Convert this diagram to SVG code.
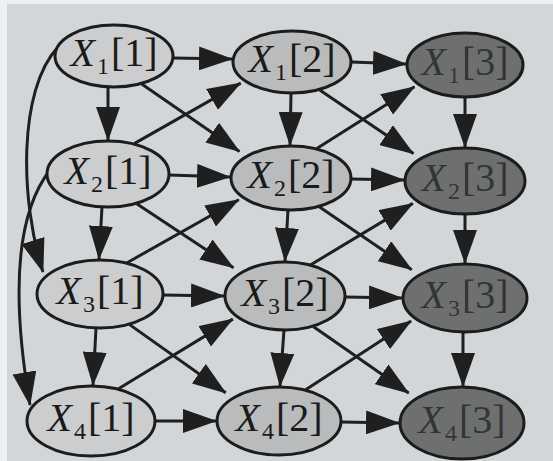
<svg xmlns="http://www.w3.org/2000/svg" width="553" height="461" viewBox="0 0 553 461">
<defs>
<marker id="ah" markerUnits="userSpaceOnUse" markerWidth="34" markerHeight="24" refX="33" refY="12" orient="auto" viewBox="0 0 34 24">
<path d="M0,0 L34,12 L0,24 z" fill="#1f1f1f"/>
</marker>
<style>
.n1{fill:#cbcdce;stroke:#1c1c1c;stroke-width:3}
.n2{fill:#b9bbbc;stroke:#1c1c1c;stroke-width:3}
.n3{fill:#6e7070;stroke:#1c1c1c;stroke-width:3}
.e{stroke:#1f1f1f;stroke-width:3;fill:none;marker-end:url(#ah)}
.t{font-family:"Liberation Serif","Times New Roman",serif;font-size:40px;fill:#1a1a1a}
.t3{fill:#333535}
.i{font-style:italic}
.s{font-size:24px}
</style>
</defs>
<rect x="0" y="0" width="553" height="461" fill="#d3d6d8"/>
<rect x="0" y="0" width="553" height="4" fill="#eef0f1"/>
<rect x="0" y="0" width="7" height="461" fill="#eef0f1"/>
<g id="connectors">
<line class="e" x1="173" y1="58" x2="232" y2="59"/>
<line class="e" x1="351" y1="62" x2="406" y2="64"/>
<line class="e" x1="169" y1="175" x2="230" y2="177"/>
<line class="e" x1="351" y1="179" x2="404" y2="180"/>
<line class="e" x1="163" y1="295" x2="224" y2="296"/>
<line class="e" x1="345" y1="297" x2="402" y2="298"/>
<line class="e" x1="155" y1="421" x2="216" y2="421"/>
<line class="e" x1="341" y1="422" x2="399" y2="423"/>
<line class="e" x1="108" y1="87" x2="108" y2="140"/>
<line class="e" x1="102" y1="207" x2="99" y2="259"/>
<line class="e" x1="96" y1="328" x2="93" y2="385"/>
<line class="e" x1="291" y1="93" x2="290" y2="145"/>
<line class="e" x1="288" y1="210" x2="285" y2="261"/>
<line class="e" x1="284" y1="330" x2="280" y2="386"/>
<line class="e" x1="465" y1="97" x2="465" y2="147"/>
<line class="e" x1="465" y1="214" x2="465" y2="263"/>
<line class="e" x1="463" y1="332" x2="463" y2="386"/>
<line class="e" x1="141.7" y1="83.9" x2="239.4" y2="151.4"/>
<line class="e" x1="136.7" y1="203.7" x2="233.4" y2="267.8"/>
<line class="e" x1="129.6" y1="324.6" x2="225.7" y2="392.8"/>
<line class="e" x1="319.7" y1="89.9" x2="413.4" y2="153.6"/>
<line class="e" x1="319.2" y1="206.8" x2="411.7" y2="269.8"/>
<line class="e" x1="313.2" y1="326.6" x2="408.7" y2="393.1"/>
<line class="e" x1="134.2" y1="143.6" x2="240.7" y2="83.1"/>
<line class="e" x1="127.1" y1="262.7" x2="238.8" y2="199.8"/>
<line class="e" x1="118.5" y1="388.8" x2="232.8" y2="319.1"/>
<line class="e" x1="316.8" y1="148.6" x2="414.5" y2="86.8"/>
<line class="e" x1="310.8" y1="264.7" x2="412.8" y2="203.4"/>
<line class="e" x1="305.7" y1="389.7" x2="411.1" y2="321.1"/>
<path class="e" d="M58,47 C18,90 20,200 43,272"/>
<path class="e" d="M50,170 C15,215 12,300 30,405"/>
</g>
<g id="X1_1"><ellipse class="n1" cx="114" cy="56" rx="59" ry="31"/><text class="t" x="114" y="66" text-anchor="middle"><tspan class="i">X</tspan><tspan class="s" dx="2" dy="8">1</tspan><tspan dx="2" dy="-8">[1]</tspan></text></g>
<g id="X1_2"><ellipse class="n2" cx="292" cy="62" rx="59" ry="31"/><text class="t" x="292" y="72" text-anchor="middle"><tspan class="i">X</tspan><tspan class="s" dx="2" dy="8">1</tspan><tspan dx="2" dy="-8">[2]</tspan></text></g>
<g id="X1_3"><ellipse class="n3" cx="465" cy="65" rx="58" ry="32"/><text class="t t3" x="465" y="75" text-anchor="middle"><tspan class="i">X</tspan><tspan class="s" dx="2" dy="8">1</tspan><tspan dx="2" dy="-8">[3]</tspan></text></g>
<g id="X2_1"><ellipse class="n1" cx="108" cy="174" rx="61" ry="33"/><text class="t" x="108" y="184" text-anchor="middle"><tspan class="i">X</tspan><tspan class="s" dx="2" dy="8">2</tspan><tspan dx="2" dy="-8">[1]</tspan></text></g>
<g id="X2_2"><ellipse class="n2" cx="291" cy="178" rx="60" ry="32"/><text class="t" x="291" y="188" text-anchor="middle"><tspan class="i">X</tspan><tspan class="s" dx="2" dy="8">2</tspan><tspan dx="2" dy="-8">[2]</tspan></text></g>
<g id="X2_3"><ellipse class="n3" cx="465" cy="181" rx="60" ry="33"/><text class="t t3" x="465" y="191" text-anchor="middle"><tspan class="i">X</tspan><tspan class="s" dx="2" dy="8">2</tspan><tspan dx="2" dy="-8">[3]</tspan></text></g>
<g id="X3_1"><ellipse class="n1" cx="100" cy="294" rx="63" ry="34"/><text class="t" x="100" y="304" text-anchor="middle"><tspan class="i">X</tspan><tspan class="s" dx="2" dy="8">3</tspan><tspan dx="2" dy="-8">[1]</tspan></text></g>
<g id="X3_2"><ellipse class="n2" cx="285" cy="296" rx="60" ry="34"/><text class="t" x="285" y="306" text-anchor="middle"><tspan class="i">X</tspan><tspan class="s" dx="2" dy="8">3</tspan><tspan dx="2" dy="-8">[2]</tspan></text></g>
<g id="X3_3"><ellipse class="n3" cx="465" cy="298" rx="62" ry="34"/><text class="t t3" x="465" y="308" text-anchor="middle"><tspan class="i">X</tspan><tspan class="s" dx="2" dy="8">3</tspan><tspan dx="2" dy="-8">[3]</tspan></text></g>
<g id="X4_1"><ellipse class="n1" cx="91" cy="421" rx="64" ry="35"/><text class="t" x="91" y="431" text-anchor="middle"><tspan class="i">X</tspan><tspan class="s" dx="2" dy="8">4</tspan><tspan dx="2" dy="-8">[1]</tspan></text></g>
<g id="X4_2"><ellipse class="n2" cx="279" cy="421" rx="62" ry="34"/><text class="t" x="279" y="431" text-anchor="middle"><tspan class="i">X</tspan><tspan class="s" dx="2" dy="8">4</tspan><tspan dx="2" dy="-8">[2]</tspan></text></g>
<g id="X4_3"><ellipse class="n3" cx="462" cy="423" rx="62" ry="36"/><text class="t t3" x="462" y="433" text-anchor="middle"><tspan class="i">X</tspan><tspan class="s" dx="2" dy="8">4</tspan><tspan dx="2" dy="-8">[3]</tspan></text></g>
</svg>
